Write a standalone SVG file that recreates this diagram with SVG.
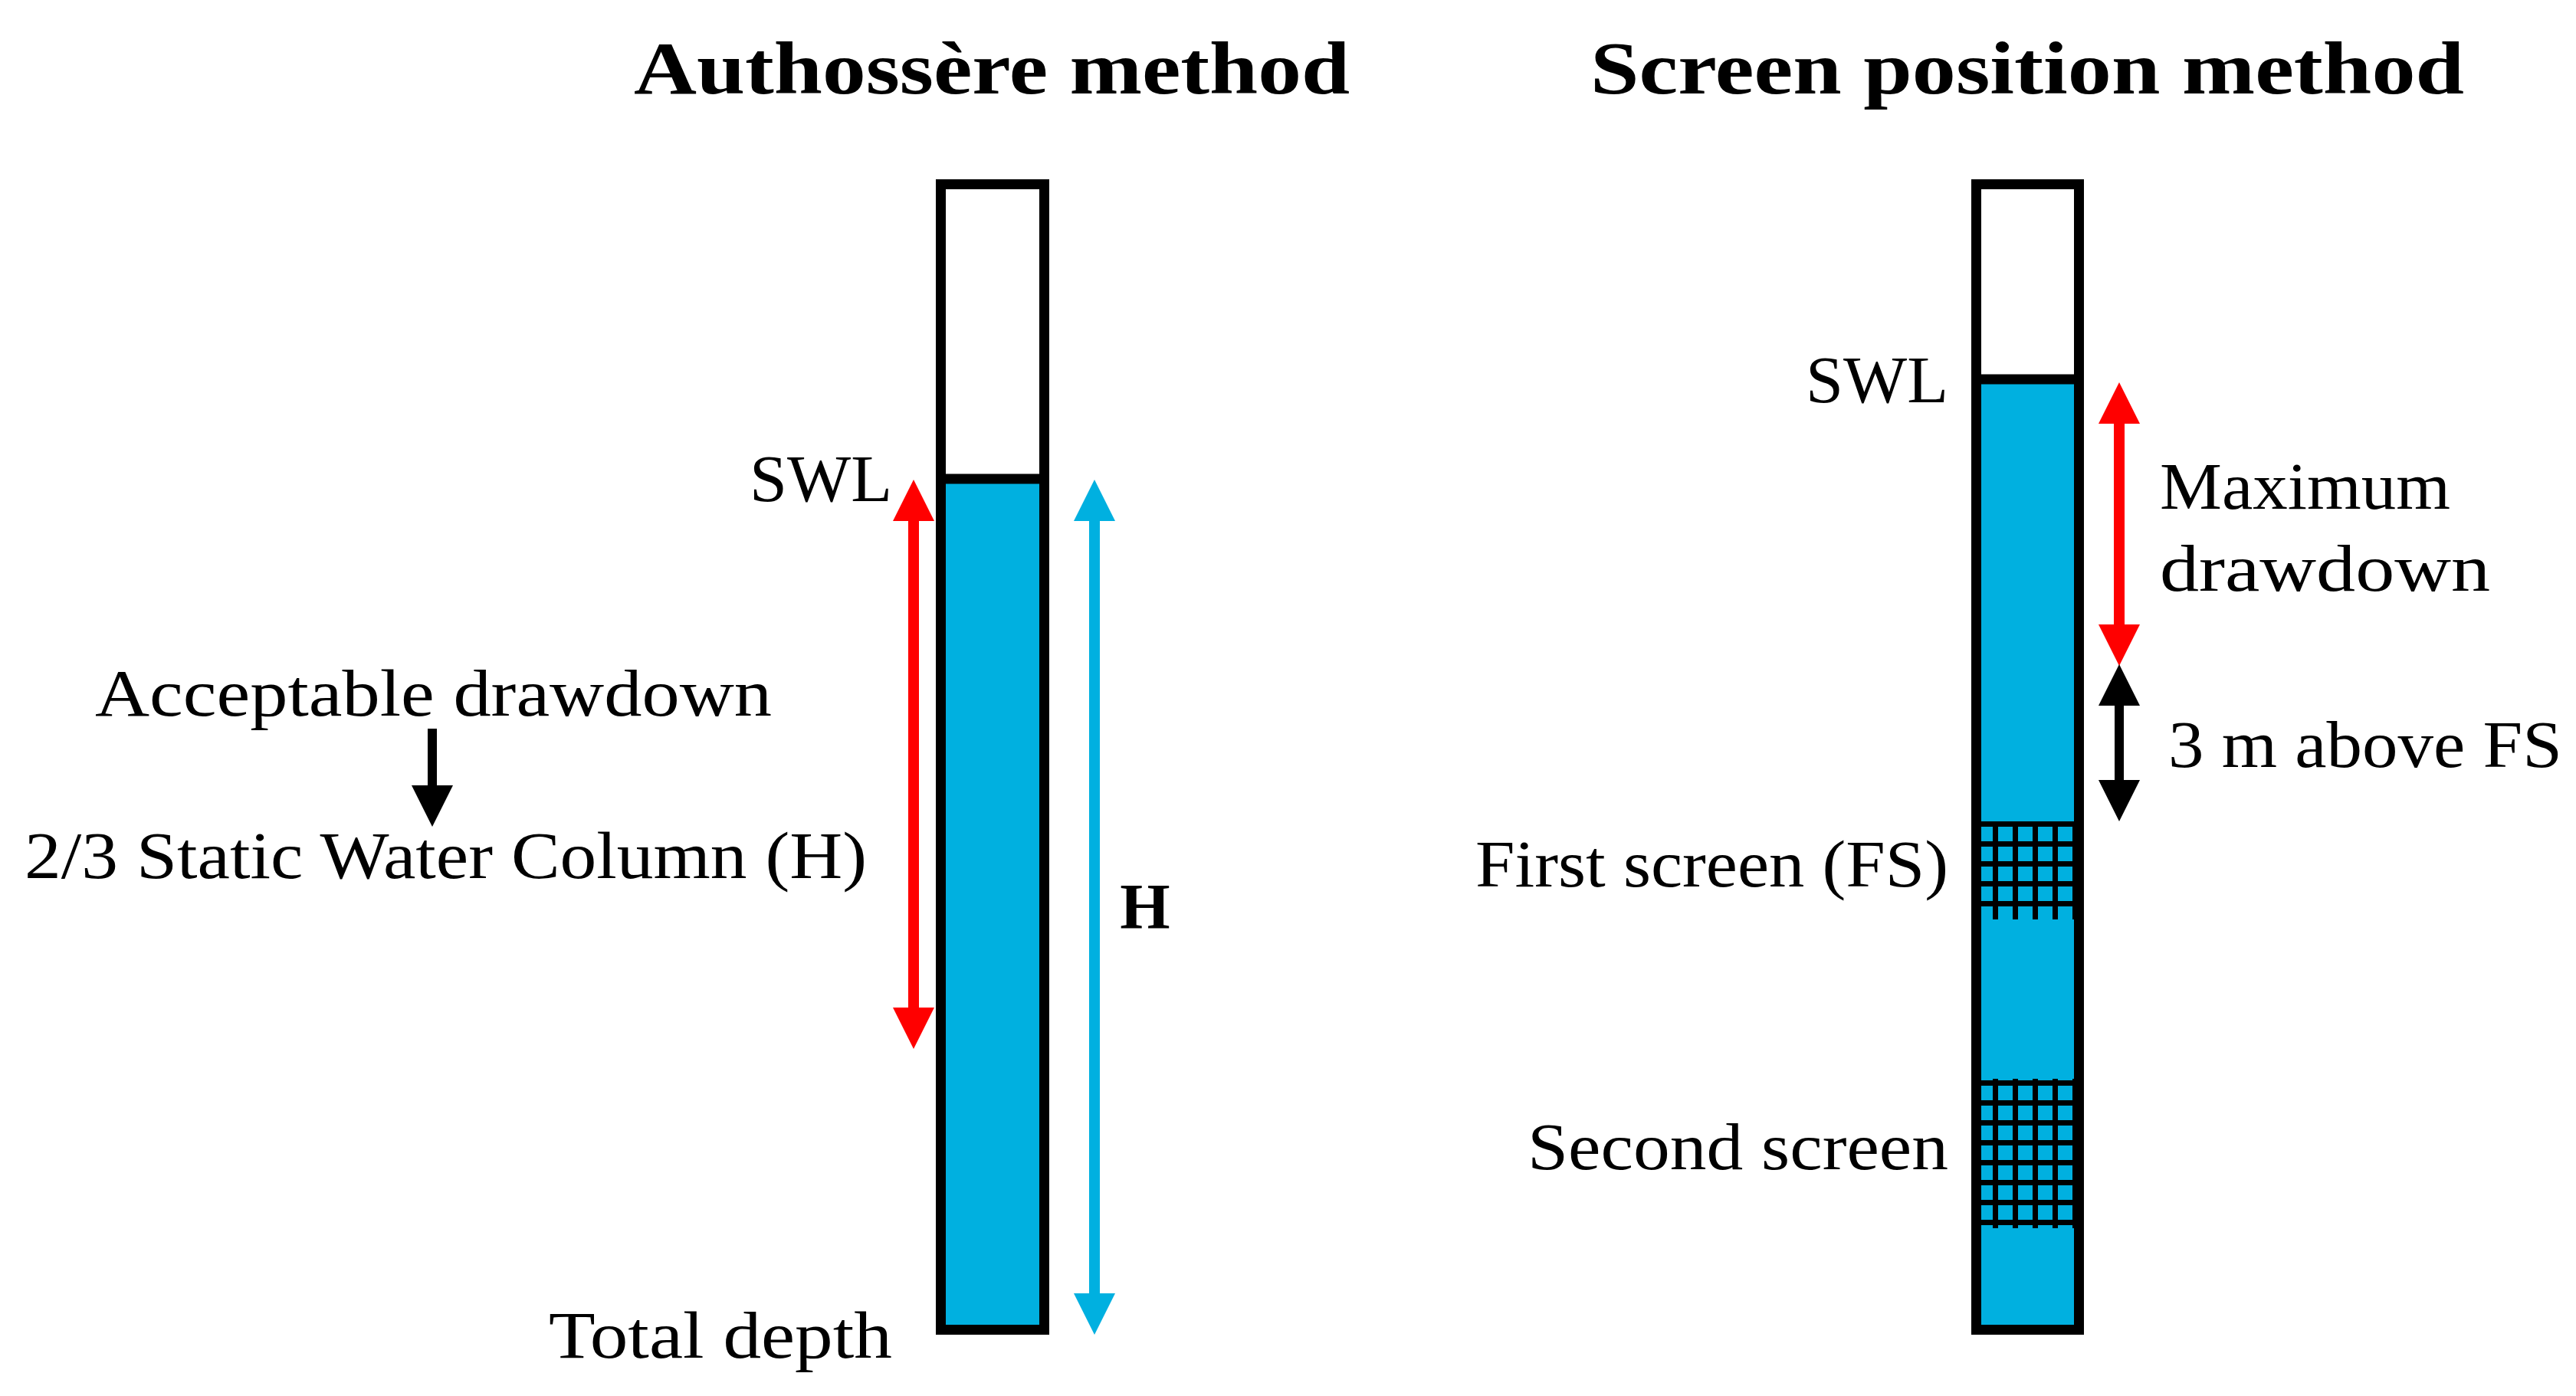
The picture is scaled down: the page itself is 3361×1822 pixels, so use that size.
<svg xmlns="http://www.w3.org/2000/svg" width="3361" height="1822" viewBox="0 0 3361 1822">
<style>
.t{font-family:"Liberation Serif","DejaVu Serif",serif;font-size:86px;fill:#000}
.h{font-family:"Liberation Serif","DejaVu Serif",serif;font-weight:bold;font-size:98px;fill:#000}
.well{fill:none;stroke:#000;stroke-width:13}
.water{fill:#00B0E0}
</style>
<defs>
<marker id="hr" markerUnits="userSpaceOnUse" markerWidth="54" markerHeight="54" refX="0" refY="27" orient="auto-start-reverse" viewBox="0 0 54 54"><path d="M0,0 L54,27 L0,54 Z" fill="#FF0000"/></marker>
<marker id="hb" markerUnits="userSpaceOnUse" markerWidth="54" markerHeight="54" refX="0" refY="27" orient="auto-start-reverse" viewBox="0 0 54 54"><path d="M0,0 L54,27 L0,54 Z" fill="#00B0E0"/></marker>
<marker id="hk" markerUnits="userSpaceOnUse" markerWidth="54" markerHeight="54" refX="0" refY="27" orient="auto-start-reverse" viewBox="0 0 54 54"><path d="M0,0 L54,27 L0,54 Z" fill="#000"/></marker>
<pattern id="grid" patternUnits="userSpaceOnUse" x="2581" y="1079" width="26" height="26"><rect width="26" height="26" fill="#000"/><rect width="19" height="19" fill="#00B0E0"/></pattern>
</defs>
<text class="h" x="827" y="122" textLength="934" lengthAdjust="spacingAndGlyphs">Authossère method</text>
<text class="h" x="2075" y="122" textLength="1140" lengthAdjust="spacingAndGlyphs">Screen position method</text>
<g id="well-left">
<rect class="water" x="1227" y="625" width="136" height="1110"/>
<line x1="1221" y1="625" x2="1369" y2="625" stroke="#000" stroke-width="13"/>
<rect class="well" x="1227.5" y="240.5" width="135" height="1495"/>
</g>
<g id="well-right">
<rect class="water" x="2578" y="495" width="135" height="1240"/>
<rect x="2578" y="1072" width="135" height="128" fill="url(#grid)"/>
<rect x="2578" y="1408" width="135" height="195" fill="url(#grid)"/>
<line x1="2572" y1="495" x2="2719" y2="495" stroke="#000" stroke-width="13"/>
<rect class="well" x="2578.5" y="240.5" width="134" height="1495"/>
</g>
<g id="connectors" stroke-width="14" fill="none">
<line x1="1192" y1="680" x2="1192" y2="1315" stroke="#FF0000" marker-start="url(#hr)" marker-end="url(#hr)"/>
<line x1="1428" y1="680" x2="1428" y2="1688" stroke="#00B0E0" marker-start="url(#hb)" marker-end="url(#hb)"/>
<line x1="564" y1="951" x2="564" y2="1025" stroke="#000" stroke-width="12" marker-end="url(#hk)"/>
<line x1="2765" y1="553" x2="2765" y2="815" stroke="#FF0000" marker-start="url(#hr)" marker-end="url(#hr)"/>
<line x1="2765" y1="921" x2="2765" y2="1018" stroke="#000" stroke-width="12" marker-start="url(#hk)" marker-end="url(#hk)"/>
</g>
<g id="labels-left">
<text class="t" x="978" y="654" textLength="186" lengthAdjust="spacingAndGlyphs">SWL</text>
<text class="t" x="124" y="934" textLength="883" lengthAdjust="spacingAndGlyphs">Acceptable drawdown</text>
<text class="t" x="32" y="1146" textLength="1099" lengthAdjust="spacingAndGlyphs">2/3 Static Water Column (H)</text>
<text class="h" x="1494" y="1212" text-anchor="middle" style="font-size:84px">H</text>
<text class="t" x="716" y="1772" textLength="448" lengthAdjust="spacingAndGlyphs">Total depth</text>
</g>
<g id="labels-right">
<text class="t" x="2356" y="525" textLength="186" lengthAdjust="spacingAndGlyphs">SWL</text>
<text class="t" x="2818" y="664" textLength="379" lengthAdjust="spacingAndGlyphs">Maximum</text>
<text class="t" x="2818" y="771" textLength="431" lengthAdjust="spacingAndGlyphs">drawdown</text>
<text class="t" x="2829" y="1001" textLength="514" lengthAdjust="spacingAndGlyphs">3 m above FS</text>
<text class="t" x="1925" y="1157" textLength="617" lengthAdjust="spacingAndGlyphs">First screen (FS)</text>
<text class="t" x="1993" y="1526" textLength="549" lengthAdjust="spacingAndGlyphs">Second screen</text>
</g>
</svg>
